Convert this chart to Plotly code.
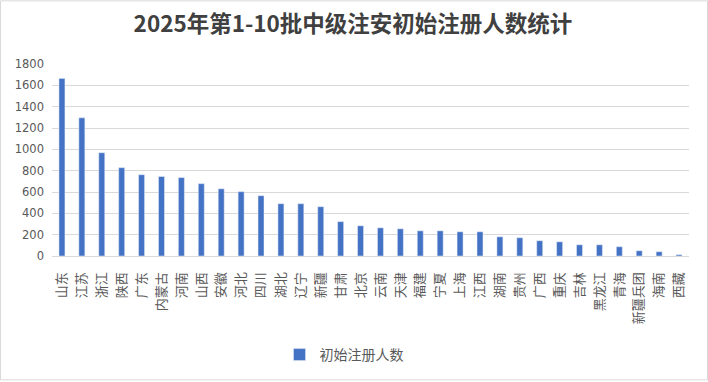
import plotly.graph_objects as go

categories = ["山东", "江苏", "浙江", "陕西", "广东", "内蒙古", "河南", "山西", "安徽", "河北",
              "四川", "湖北", "辽宁", "新疆", "甘肃", "北京", "云南", "天津", "福建", "宁夏",
              "上海", "江西", "湖南", "贵州", "广西", "重庆", "吉林", "黑龙江", "青海", "新疆兵团",
              "海南", "西藏"]
values = [1665, 1295, 968, 828, 762, 745, 735, 678, 630, 603,
          565, 490, 490, 462, 322, 283, 264, 255, 236, 236,
          227, 227, 180, 171, 143, 133, 105, 105, 87, 49,
          40, 12]
y_ticks = [0, 200, 400, 600, 800, 1000, 1200, 1400, 1600, 1800]

W, H = 708, 382
L, R, T, B = 52, 19, 64, 125
pw = W - L - R
ph = H - T - B

cjk = "Noto Sans CJK SC, sans-serif"

fig = go.Figure()
fig.add_trace(go.Bar(
    x=categories, y=values, name="初始注册人数",
    marker=dict(color="#4472C4"), width=0.3,
    showlegend=True,
))

def px_to_paper_x(px):
    return (px - L) / pw

def px_to_paper_y(py):
    return (H - B - py) / ph

fig.update_layout(
    width=W, height=H,
    margin=dict(l=L, r=R, t=T, b=B, pad=0),
    paper_bgcolor="white", plot_bgcolor="white",
    font=dict(family=cjk, color="#595959", size=12),
    title=dict(text="<b>2025年第1-10批中级注安初始注册人数统计</b>",
               x=px_to_paper_x(353), xanchor="center", xref="paper",
               y=1 - 24 / H, yanchor="middle",
               font=dict(size=22.5, color="#404040", family=cjk)),
    xaxis=dict(tickangle=-90, showgrid=False, linecolor="#d9d9d9", linewidth=1,
               showline=True, ticks="", ticklabelstandoff=10,
               tickfont=dict(size=13, color="#595959", family=cjk),
               range=[-0.5, len(categories) - 0.5]),
    yaxis=dict(range=[0, 1800], tickvals=y_ticks, gridcolor="#d9d9d9", gridwidth=1,
               showline=False, zeroline=False, ticks="", ticklabelstandoff=7,
               tickfont=dict(size=11.5, color="#595959", family="DejaVu Sans")),
    legend=dict(orientation="h", x=px_to_paper_x(344), xanchor="center",
                y=px_to_paper_y(355), yanchor="middle",
                font=dict(size=14, color="#595959", family=cjk)),
    bargap=0.7,
    shapes=[dict(type="rect", xref="paper", yref="paper",
                 x0=px_to_paper_x(0.5), x1=px_to_paper_x(W - 0.5),
                 y0=px_to_paper_y(H - 0.5), y1=px_to_paper_y(0.5),
                 line=dict(color="#d9d9d9", width=1), layer="below")],
)

fig.write_html("out.html", config={"displayModeBar": False},
               post_script="document.body.style.margin='0';document.body.style.padding='0';")
